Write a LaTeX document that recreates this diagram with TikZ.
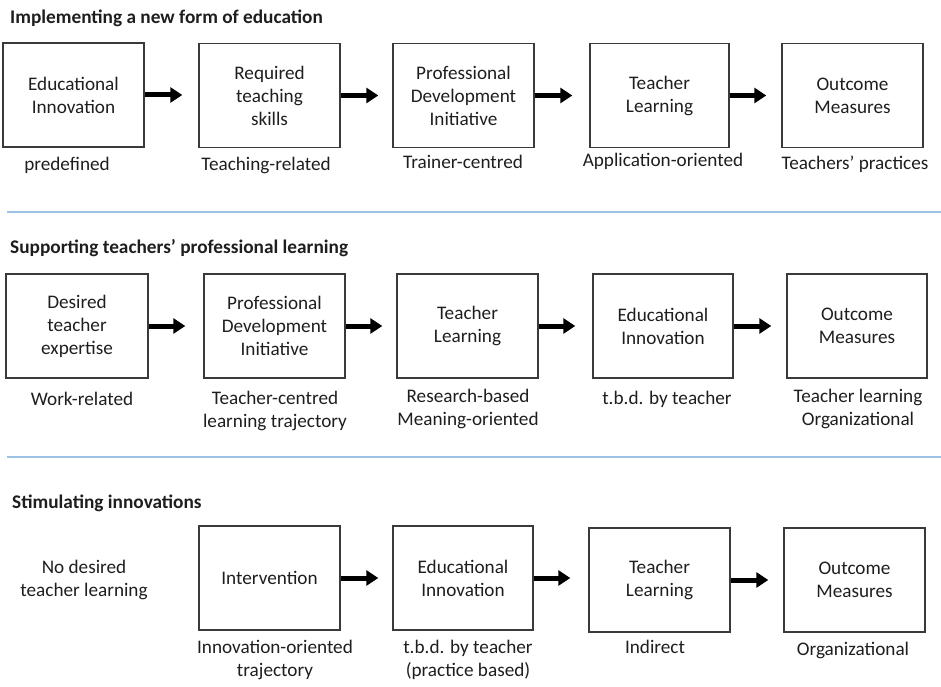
\documentclass[tikz,border=0pt]{standalone}
\usepackage{fontspec}
\setmainfont{Carlito}
\usetikzlibrary{arrows.meta}
\definecolor{sepblue}{HTML}{9DC3E6}
\definecolor{boxline}{HTML}{3A3A3A}
\definecolor{txt}{HTML}{1E1E1E}
\tikzset{
  box/.style={draw=boxline, line width=1.4pt, minimum width=141pt, minimum height=104pt, inner sep=0pt, align=center, text=txt, font=\fontsize{19.2}{23}\selectfont},
  lbl/.style={align=center, inner sep=0pt, text=txt, font=\fontsize{19.2}{23}\selectfont},
  head/.style={anchor=west, inner sep=0pt, text=txt, font=\fontsize{19.3}{22}\selectfont\bfseries},
  flow/.style={line width=5pt, -{Triangle[length=12pt,width=15pt]}},
  sep/.style={draw=sepblue, line width=1.2pt}
}
\begin{document}
\begin{tikzpicture}[x=1pt, y=-1pt]
\useasboundingbox (0,0) rectangle (941,687);
% Row 1
\node[head] (h1) at (10,18) {Implementing a new form of education};
\node[box] (a1) at (73.5,95) {Educational\\Innovation};
\node[box] (a2) at (269.5,95.5) {Required\\teaching\\skills};
\node[box] (a3) at (463.5,95.5) {Professional\\Development\\Initiative};
\node[box, minimum width=139pt] (a4) at (659.5,95.5) {Teacher\\Learning};
\node[box] (a5) at (852.5,95.5) {Outcome\\Measures};
\draw[flow] (a1.east) -- ([xshift=-16pt]a2.west |- a1.east);
\draw[flow] (a2.east) -- ([xshift=-14pt]a3.west |- a2.east);
\draw[flow] (a3.east) -- ([xshift=-17pt]a4.west |- a3.east);
\draw[flow] (a4.east) -- ([xshift=-15pt]a5.west |- a4.east);
\node[lbl] (la1) at (67,165) {predefined};
\node[lbl] (la2) at (266,165) {Teaching-related};
\node[lbl] (la3) at (463,162) {Trainer-centred};
\node[lbl] (la4) at (663,161) {Application-oriented};
\node[lbl] (la5) at (855,164) {Teachers’ practices};
\coordinate (s1a) at (7,212);
\coordinate (s1b) at (941,212);
\draw[sep] (s1a) -- (s1b);
% Row 2
\node[head] (h2) at (10,248) {Supporting teachers’ professional learning};
\node[box, minimum width=142pt] (b1) at (77,326) {Desired\\teacher\\expertise};
\node[box] (b2) at (274.5,326) {Professional\\Development\\Initiative};
\node[box] (b3) at (467.5,326) {Teacher\\Learning};
\node[box, minimum width=140pt] (b4) at (663,326) {Educational\\Innovation};
\node[box, minimum width=140pt] (b5) at (857,326) {Outcome\\Measures};
\draw[flow] (b1.east) -- ([xshift=-18pt]b2.west |- b1.east);
\draw[flow] (b2.east) -- ([xshift=-14pt]b3.west |- b2.east);
\draw[flow] (b3.east) -- ([xshift=-17pt]b4.west |- b3.east);
\draw[flow] (b4.east) -- ([xshift=-15pt]b5.west |- b4.east);
\node[lbl] (lb1) at (82,399) {Work-related};
\node[lbl] (lb2) at (275,410.5) {Teacher-centred\\learning trajectory};
\node[lbl] (lb3) at (468,408.5) {Research-based\\Meaning-oriented};
\node[lbl] (lb4) at (667,399) {t.b.d. by teacher};
\node[lbl] (lb5) at (858,409) {Teacher learning\\Organizational};
\coordinate (s2a) at (7,457);
\coordinate (s2b) at (941,457);
\draw[sep] (s2a) -- (s2b);
% Row 3
\node[head] (h3) at (12,503) {Stimulating innovations};
\node[lbl] (c0) at (84,580) {No desired\\teacher learning};
\node[box] (c1) at (269.5,578) {Intervention};
\node[box, minimum width=140pt] (c2) at (463,578) {Educational\\Innovation};
\node[box] (c3) at (659.5,580) {Teacher\\Learning};
\node[box] (c4) at (854.5,580) {Outcome\\Measures};
\draw[flow] (c1.east) -- ([xshift=-14pt]c2.west |- c1.east);
\draw[flow] (c2.east) -- ([xshift=-18pt]c3.west |- c2.east);
\draw[flow] (c3.east) -- ([xshift=-15pt]c4.west |- c3.east);
\node[lbl] (lc1) at (275,660) {Innovation-oriented\\trajectory};
\node[lbl] (lc2) at (468,660) {t.b.d. by teacher\\(practice based)};
\node[lbl] (lc3) at (655,647) {Indirect};
\node[lbl] (lc4) at (853,650) {Organizational};
\end{tikzpicture}
\end{document}
